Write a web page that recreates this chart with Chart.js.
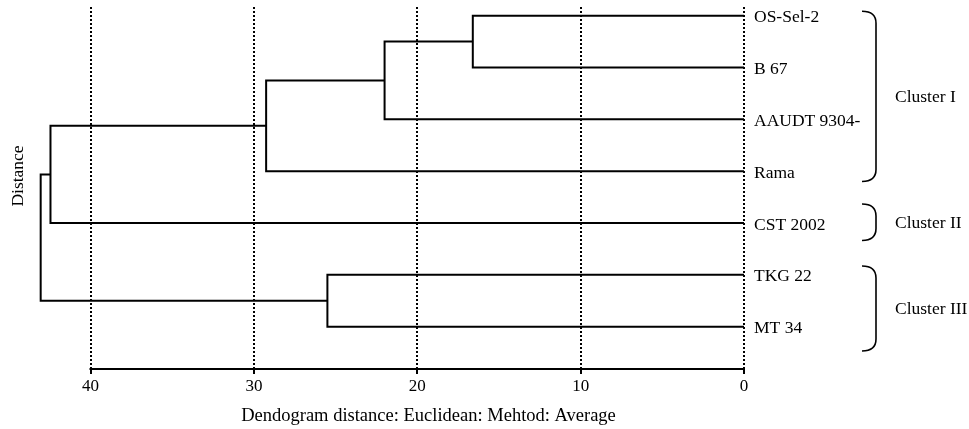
<!DOCTYPE html>
<html>
<head>
<meta charset="utf-8">
<script src="https://cdn.jsdelivr.net/npm/chart.js@4"></script>
<style>
  html, body { margin: 0; padding: 0; background: #fff; }
  #wrap { width: 969px; height: 429px; }
</style>
</head>
<body>
<div id="wrap"><canvas id="c" width="969" height="429"></canvas></div>
<script>
// ---- data ----
const leafNames = ['OS-Sel-2', 'B 67', 'AAUDT 9304-', 'Rama', 'CST 2002', 'TKG 22', 'MT 34'];
// linkage: node ids 0..6 are leaves, 7.. are merges in order
const linkA = [0, 7, 8, 5, 9, 11];
const linkB = [1, 2, 3, 6, 4, 10];
const linkDist = [16.6, 22.0, 29.25, 25.5, 42.45, 43.05];
const xTicks = [0, 10, 20, 30, 40];
const clusterNames = ['Cluster I', 'Cluster II', 'Cluster III'];
const clusterFirst = [0, 4, 5];
const clusterLast = [3, 4, 6];
const xTitle = 'Dendogram distance: Euclidean: Mehtod: Average';
const yTitle = 'Distance';

// ---- build dendrogram segments ----
const nodeY = leafNames.map((_, i) => i);
const nodeH = leafNames.map(() => 0);
const datasets = [];
linkDist.forEach((d, k) => {
  const a = linkA[k], b = linkB[k];
  const ya = nodeY[a], yb = nodeY[b];
  nodeY.push((ya + yb) / 2);
  nodeH.push(d);
  datasets.push({
    data: [
      { x: nodeH[a], y: ya },
      { x: d, y: ya },
      { x: d, y: yb },
      { x: nodeH[b], y: yb }
    ],
    showLine: true,
    borderColor: '#000',
    borderWidth: 2,
    pointRadius: 0,
    tension: 0,
    fill: false
  });
});

const FONT = 'Liberation Serif, "Times New Roman", serif';

const annot = {
  id: 'annot',
  afterDraw(chart, args, opts) {
    const { ctx, chartArea: a, scales: { x, y } } = chart;
    ctx.save();
    // x axis line from first to last tick
    ctx.strokeStyle = '#000';
    ctx.lineWidth = 2;
    ctx.beginPath();
    ctx.moveTo(x.getPixelForValue(Math.max(...xTicks)) - 1, a.bottom);
    ctx.lineTo(x.getPixelForValue(Math.min(...xTicks)) + 1, a.bottom);
    ctx.stroke();

    ctx.fillStyle = '#000';
    // x title
    ctx.font = '18.5px ' + FONT;
    ctx.textAlign = 'center';
    ctx.textBaseline = 'alphabetic';
    ctx.fillText(xTitle, 428.5, 421);
    // y title
    ctx.font = '17.5px ' + FONT;
    ctx.save();
    ctx.translate(a.left - 14.5, 176);
    ctx.rotate(-Math.PI / 2);
    ctx.textBaseline = 'middle';
    ctx.fillText(yTitle, 0, 0);
    ctx.restore();

    // cluster brackets
    const x0 = a.right + 118, x1 = a.right + 132;
    ctx.lineWidth = 1.6;
    ctx.font = '17.5px ' + FONT;
    clusterNames.forEach((name, i) => {
      const top = y.getPixelForValue(clusterFirst[i] - opts.padTop[i]);
      const bot = y.getPixelForValue(clusterLast[i] + opts.padBottom[i]);
      const r = Math.min(12, (bot - top) / 3);
      ctx.beginPath();
      ctx.moveTo(x0, top);
      ctx.quadraticCurveTo(x1, top, x1, top + r);
      ctx.lineTo(x1, bot - r);
      ctx.quadraticCurveTo(x1, bot, x0, bot);
      ctx.stroke();
      ctx.textAlign = 'left';
      ctx.textBaseline = 'middle';
      ctx.fillText(name, a.right + 151, (top + bot) / 2 + 1);
    });
    ctx.restore();
  }
};

new Chart(document.getElementById('c'), {
  type: 'scatter',
  data: { datasets },
  plugins: [annot],
  options: {
    responsive: false,
    animation: false,
    events: [],
    layout: { padding: { left: 33, top: 7, right: 0, bottom: 0 } },
    plugins: {
      legend: { display: false },
      tooltip: { enabled: false },
      annot: {
        padTop: [0.085, 0.367, 0.171],
        padBottom: [0.2, 0.337, 0.469]
      }
    },
    scales: {
      x: {
        type: 'linear',
        position: 'bottom',
        reverse: true,
        min: 0,
        max: 43.52,
        afterBuildTicks: s => { s.ticks = xTicks.map(v => ({ value: v })); },
        afterFit: s => { s.height = 60; s.paddingLeft = 0; s.paddingRight = 0; },
        grid: {
          display: true,
          color: '#000',
          lineWidth: 2,
          borderDash: [2, 2],
          drawTicks: true,
          tickLength: 5,
          tickColor: '#000',
          tickWidth: 2,
          tickBorderDash: []
        },
        border: { display: false, dash: [2, 2] },
        ticks: {
          color: '#000',
          font: { family: FONT, size: 17 },
          padding: 2,
          maxRotation: 0,
          autoSkip: false
        }
      },
      y: {
        type: 'linear',
        position: 'right',
        reverse: true,
        min: -0.168,
        max: 6.816,
        afterBuildTicks: s => { s.ticks = leafNames.map((_, i) => ({ value: i })); },
        afterFit: s => { s.width = 225; s.paddingTop = 0; s.paddingBottom = 0; },
        grid: { display: false },
        border: { display: false },
        ticks: {
          color: '#000',
          font: { family: FONT, size: 17.5 },
          padding: 2,
          labelOffset: 2,
          autoSkip: false,
          callback: v => leafNames[v]
        }
      }
    }
  }
});
</script>
</body>
</html>
